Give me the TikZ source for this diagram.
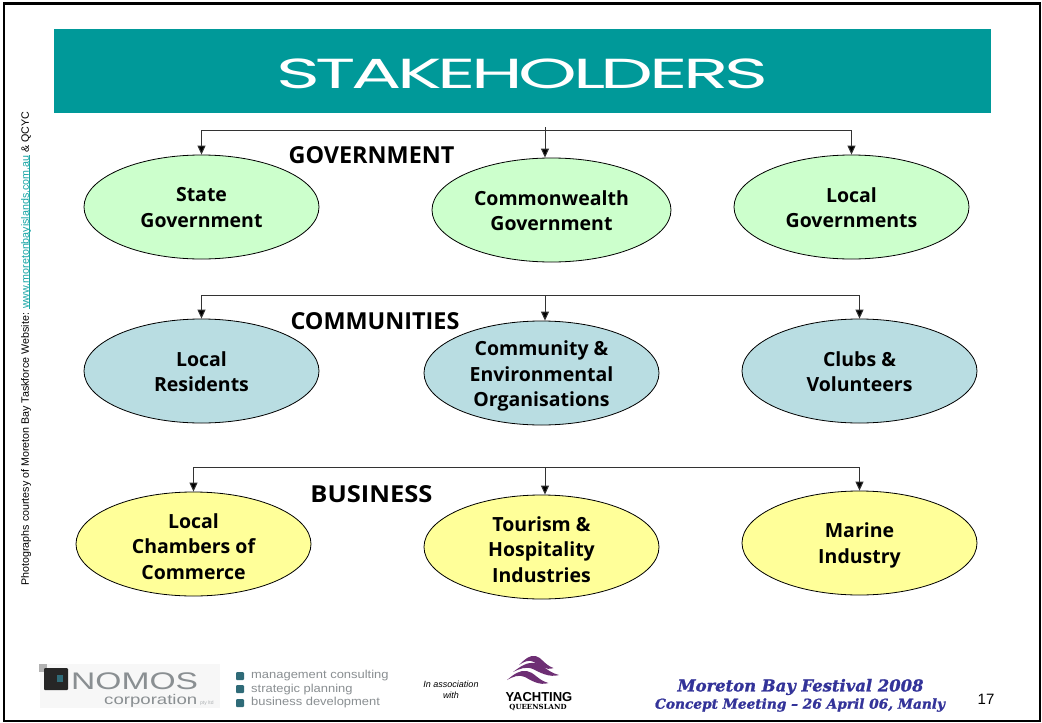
\documentclass[tikz,border=0pt]{standalone}
\usepackage{fontspec}
\usepackage{graphicx}
\setmainfont{Liberation Sans}
\newfontfamily\boldlbl{Open Sans}
\newfontfamily\heavyfont[BoldItalicFeatures={FakeBold=1.2}]{DejaVu Serif}
\newfontfamily\qfont{DejaVu Serif}
\newfontfamily\titlefont[LetterSpace=-6]{Poppins}
\usetikzlibrary{arrows.meta,calc,shapes.geometric}
\definecolor{teal1}{HTML}{009999}
\definecolor{linkc}{HTML}{1AA6A6}
\definecolor{gov}{HTML}{CCFFCC}
\definecolor{com}{HTML}{B9DDE2}
\definecolor{biz}{HTML}{FFFF99}
\definecolor{navy}{HTML}{333399}
\definecolor{bullet}{HTML}{2F6B78}
\definecolor{greytxt}{HTML}{8A8F92}
\definecolor{plum}{HTML}{6E2F74}
\newcommand{\ulink}[1]{\setbox0\hbox{#1}\rlap{\rule[-1.3pt]{\wd0}{0.7pt}}\box0}
% text in an oval, moved down by #1 without moving or growing the oval
\newcommand{\ovtext}[2]{\raisebox{\dimexpr-7.6pt-#1\relax}[0pt][0pt]{\begin{tabular}{@{}c@{}}#2\end{tabular}}}
\tikzset{
  oval/.style={draw=black,line width=0.8pt,ellipse,minimum width=235pt,minimum height=104pt,inner sep=0pt,
    align=center,font=\boldlbl\bfseries\fontsize{19.5}{25.5}\selectfont},
  head/.style={font=\boldlbl\bfseries\fontsize{23.4}{26}\selectfont,inner sep=0pt,anchor=center},
  wire/.style={draw=black!80,line width=1pt},
  arroww/.style={wire,-{Triangle[length=9pt,width=8pt,fill=black]}},
  bulletm/.style={fill=bullet,minimum size=8pt,inner sep=0pt,rounded corners=1pt},
  bullettxt/.style={text=greytxt,anchor=west,inner sep=0pt},
}
\begin{document}
\begin{tikzpicture}[x=1pt,y=-1pt]
\useasboundingbox (0,0) rectangle (1042,723);
\fill[white] (0,0) rectangle (1042,723);
\node[draw=black,line width=2.5pt,minimum width=1036pt,minimum height=717.5pt,inner sep=0pt] (frame) at (522,362.25) {};
\node[fill=teal1,minimum width=937pt,minimum height=84pt,inner sep=0pt] (band) at (522.5,71) {};
\node[text=white,inner sep=0pt] (title) at (522,74) {\scalebox{1.78}[1]{\fontsize{42}{44}\selectfont\titlefont STAKEHOLDERS}};

% side text
\node[rotate=90,inner sep=0pt,font=\fontsize{10.7}{12}\selectfont] (side) at (26,348.5)
 {Photographs courtesy of Moreton Bay Taskforce Website: \textcolor{linkc}{\ulink{www.moretonbayislands.com.au}} \& QCYC};

% row 1
\node[oval,fill=gov] (sg) at (201.5,207) {\ovtext{0pt}{State\\Government}};
\node[oval,fill=gov,minimum width=239pt] (cg) at (551.5,210) {\ovtext{0.5pt}{Commonwealth\\Government}};
\node[oval,fill=gov] (lg) at (851.5,207) {\ovtext{0.3pt}{Local\\Governments}};
\node[head] (hg) at (371.5,155) {GOVERNMENT};
\coordinate (j1) at (545,130);
\coordinate (s1) at (545,127);
\draw[wire] (s1) -- (j1);
\draw[arroww] (j1) -- (j1 |- cg.north);
\draw[arroww] (j1) -| (sg.north);
\draw[arroww] (j1) -| (lg.north);

% row 2
\node[oval,fill=com] (lr) at (201.5,371) {\ovtext{0.5pt}{Local\\Residents}};
\node[oval,fill=com] (ce) at (541.5,373) {\ovtext{0.5pt}{Community \&\\Environmental\\Organisations}};
\node[oval,fill=com] (cv) at (859.5,371) {\ovtext{0.5pt}{Clubs \&\\Volunteers}};
\node[head] (hc) at (375,321) {COMMUNITIES};
\coordinate (j2) at (545,295);
\draw[arroww] (j2) -- (j2 |- ce.north);
\draw[arroww] (j2) -| (lr.north);
\draw[arroww] (j2) -| (cv.north);

% row 3
\node[oval,fill=biz] (cc) at (193.5,544) {\ovtext{2pt}{Local\\Chambers of\\Commerce}};
\node[oval,fill=biz] (th) at (541.5,547) {\ovtext{2pt}{Tourism \&\\Hospitality\\Industries}};
\node[oval,fill=biz] (mi) at (859.5,543) {\ovtext{0pt}{Marine\\Industry}};
\node[head] (hb) at (371.5,494) {\scalebox{1.09}[1]{BUSINESS}};
\coordinate (j3) at (545,467);
\draw[arroww] (j3) -- (j3 |- th.north);
\draw[arroww] (j3) -| (cc.north);
\draw[arroww] (j3) -| (mi.north);

% NOMOS logo
\fill[black!3] (40,664) rectangle (220,708);
\fill[black!30] (39,664) rectangle (47,672);
\fill[black!85,rounded corners=1pt] (44,668) rectangle (68,690);
\fill[bullet] (57,675) rectangle (63,682);
\node[inner sep=0pt,text=greytxt,anchor=west] (nomos) at (71,681) {\scalebox{1.4}[1]{\fontsize{24}{26}\selectfont NOMOS}};
\node[inner sep=0pt,text=greytxt,anchor=west] (corp) at (104,701) {\scalebox{1.33}[1]{\fontsize{14}{16}\selectfont corporation}};
\node[inner sep=0pt,text=greytxt!70,anchor=west,font=\fontsize{5}{6}\selectfont] (pty) at (200,703) {pty ltd};

% bullets
\node[bulletm] (b1) at (240,676) {};
\node[bulletm] (b2) at (240,689) {};
\node[bulletm] (b3) at (240,703) {};
\node[bullettxt] (t1) at (251,676) {\scalebox{1.125}[1]{\fontsize{11.5}{13}\selectfont management consulting}};
\node[bullettxt] (t2) at (251,690) {\scalebox{1.125}[1]{\fontsize{11.5}{13}\selectfont strategic planning}};
\node[bullettxt] (t3) at (251,703) {\scalebox{1.125}[1]{\fontsize{11.5}{13}\selectfont business development}};

\node[inner sep=0pt,align=center,font=\itshape\fontsize{9}{11}\selectfont] (assoc) at (451,690) {In association\\with};

% yachting logo
\foreach \px/\py/\sx in {519/665/0.75, 513/672/1.0, 507/680/0.9}{
  \fill[plum,shift={(\px,\py)},xscale=\sx] (0,0) .. controls (8,-6) and (14,-10) .. (22,-9)
    .. controls (30,-8) and (34,0) .. (46,3) .. controls (36,6) and (26,0) .. (20,-3)
    .. controls (13,-6) and (6,-3) .. (0,0) -- cycle;
}
\node[inner sep=0pt,font=\bfseries\fontsize{13}{14}\selectfont] (yq) at (539,697) {YACHTING};
\node[inner sep=0pt,font=\qfont\bfseries\fontsize{7}{8}\selectfont] (qld) at (538,708) {QUEENSLAND};

% footer
\node[inner sep=0pt,text=navy,font=\heavyfont\bfseries\itshape\fontsize{16.4}{18}\selectfont] (f1) at (800.5,687) {Moreton Bay Festival 2008};
\node[inner sep=0pt,text=navy,font=\heavyfont\bfseries\itshape\fontsize{13.7}{16}\selectfont] (f2) at (800,705) {Concept Meeting – 26 April 06, Manly};
\node[inner sep=0pt,font=\fontsize{15}{16}\selectfont] (pg) at (986,699) {17};
\end{tikzpicture}
\end{document}
